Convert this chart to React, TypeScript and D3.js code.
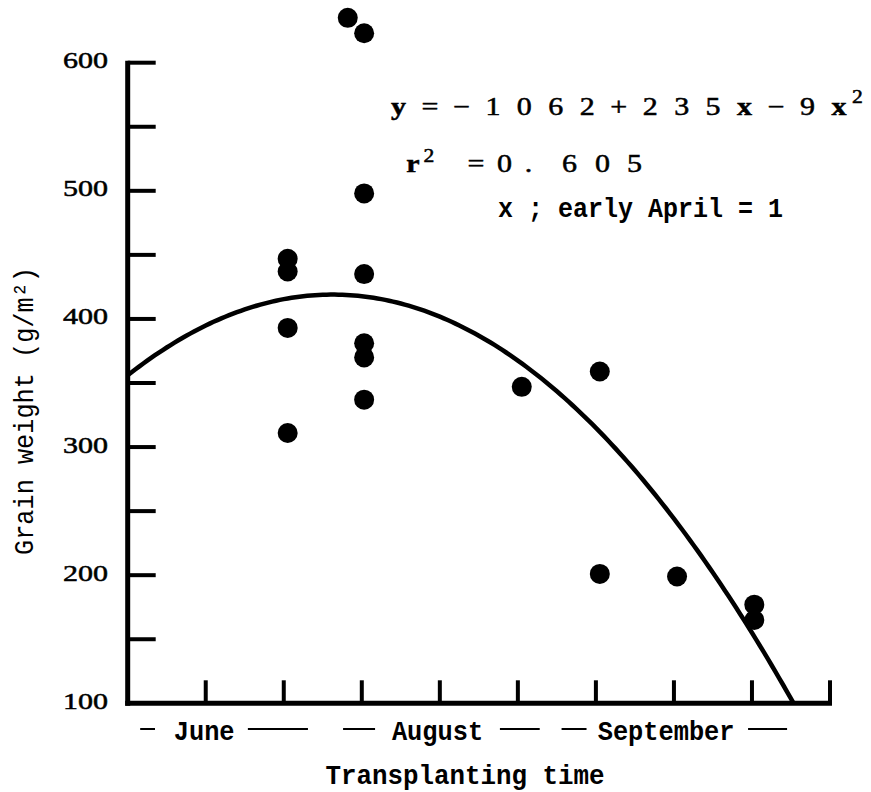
import React from 'react';
import * as d3 from 'd3';

// transplanting period (tick units along the x axis) and grain weight (g/m2)
const periods = [2.05, 2.05, 2.05, 2.05, 2.82, 3.03, 3.03, 3.03, 3.03, 3.03, 3.03, 5.05, 6.05, 6.05, 7.04, 8.03, 8.03];
const grainWeight = [447, 437, 393, 311, 635, 623, 498, 435, 381, 370, 337, 347, 359, 201, 199, 177, 165];

// fitted quadratic as drawn (c0 + c1*t + c2*t^2, t in tick units)
const fitCoef = [356, 48, -9.14];

const yTickLabels = [100, 200, 300, 400, 500, 600];
const yMinorTicks = [150, 250, 350, 450, 550];
const xTicks = [1, 2, 3, 4, 5, 6, 7, 8, 9];

const months = ['June', 'August', 'September'];
const monthCenters = [0.98, 3.97, 6.9];
const monthDashes = [
  [[0.16, 0.35], [1.54, 2.31]],
  [[2.76, 3.17], [4.77, 5.28]],
  [[5.56, 5.88], [7.95, 8.45]],
];

const eqTokens = ['y', '=', '−', '1', '0', '6', '2', '+', '2', '3', '5', 'x', '−', '9', 'x'];
const r2Tokens = ['=', '0', '.', '6', '0', '5'];
const r2Centers = [476, 504.5, 528.5, 569.5, 602.5, 634.5];

const W = 871;
const H = 792;
const mono = '"Liberation Mono", "DejaVu Sans Mono", monospace';
const serif = '"Liberation Serif", "DejaVu Serif", serif';

function Glyph({ x, y, s, bold, size }: { x: number; y: number; s: string; bold?: boolean; size?: number }) {
  return (
    <text
      transform={`translate(${x}, ${y}) scale(1.2, 1)`}
      textAnchor="middle"
      fontWeight={bold ? 'bold' : 'normal'}
      fontSize={size}
    >
      {s}
    </text>
  );
}

export default function App() {
  const x = d3.scaleLinear().domain([0, 9]).range([127.7, 830]);
  const y = d3.scaleLinear().domain([100, 600]).range([703.3, 62.7]);

  const fit = (t: number) => fitCoef[0] + fitCoef[1] * t + fitCoef[2] * t * t;
  const curveTs = d3.range(0, 9.001, 0.05);
  const line = d3
    .line<number>()
    .x((t) => x(t))
    .y((t) => y(fit(t)));

  const axisX = x(0);
  const baseY = y(100);

  return (
    <svg width={W} height={H} style={{ position: 'absolute', left: 0, top: 0, background: '#fff' }}>
      <defs>
        <clipPath id="plot">
          <rect x={axisX} y={0} width={x(9) - axisX} height={baseY} />
        </clipPath>
      </defs>

      {/* axes */}
      <line x1={axisX} x2={axisX} y1={y(600) - 2} y2={baseY + 2.5} stroke="#000" strokeWidth={5} />
      <line x1={axisX - 2.5} x2={x(9) + 2} y1={baseY} y2={baseY} stroke="#000" strokeWidth={5} />
      {yTickLabels.concat(yMinorTicks).filter((v) => v > 100).map((v) => (
        <line key={'yt' + v} x1={axisX} x2={axisX + 28} y1={y(v)} y2={y(v)} stroke="#000" strokeWidth={4} />
      ))}
      {xTicks.map((t) => (
        <line key={'xt' + t} x1={x(t)} x2={x(t)} y1={baseY} y2={baseY - 23} stroke="#000" strokeWidth={4} />
      ))}
      {yTickLabels.map((v) => (
        <text
          key={'yl' + v}
          x={63}
          y={y(v) + 5.5}
          fontFamily={serif}
          fontSize={23}
          stroke="#000"
          strokeWidth={0.5}
          textLength={45}
          lengthAdjust="spacingAndGlyphs"
        >
          {v}
        </text>
      ))}

      {/* fitted curve */}
      <path d={line(curveTs) || ''} fill="none" stroke="#000" strokeWidth={4.5} clipPath="url(#plot)" />

      {/* observations */}
      {periods.map((p, i) => (
        <circle key={i} cx={x(p)} cy={y(grainWeight[i])} r={10} fill="#000" />
      ))}

      {/* equation */}
      <g fontFamily={serif} fontSize={25} stroke="#000" strokeWidth={0.5}>
        {eqTokens.map((s, i) => (
          <Glyph key={i} x={398.5 + i * 31.46} y={115} s={s} bold={s === 'x' || s === 'y'} />
        ))}
        <Glyph x={857.5} y={103} s="2" size={18} />
        <Glyph x={413} y={172} s="r" bold />
        <Glyph x={429} y={162} s="2" size={18} />
        {r2Tokens.map((s, i) => (
          <Glyph key={'r' + i} x={r2Centers[i]} y={172} s={s} />
        ))}
      </g>
      <text x={498} y={217} fontFamily={mono} fontSize={27} fontWeight="bold" textLength={285} lengthAdjust="spacingAndGlyphs">
        x ; early April = 1
      </text>

      {/* month labels */}
      {months.map((m, i) => (
        <g key={m}>
          <text
            x={x(monthCenters[i])}
            y={740}
            textAnchor="middle"
            fontFamily={mono}
            fontSize={27}
            fontWeight="bold"
            textLength={m.length * 15.2}
            lengthAdjust="spacingAndGlyphs"
          >
            {m}
          </text>
          {monthDashes[i].map(([a, b], j) => (
            <line key={j} x1={x(a)} x2={x(b)} y1={729} y2={729} stroke="#000" strokeWidth={2} />
          ))}
        </g>
      ))}

      {/* axis titles */}
      <text
        x={465}
        y={784}
        textAnchor="middle"
        fontFamily={mono}
        fontSize={27}
        fontWeight="bold"
        textLength={279}
        lengthAdjust="spacingAndGlyphs"
      >
        Transplanting time
      </text>
      <text
        transform="translate(33, 411) rotate(-90)"
        textAnchor="middle"
        fontFamily={mono}
        fontSize={27}
        textLength={288}
        lengthAdjust="spacingAndGlyphs"
      >
        Grain weight (g/m²)
      </text>
    </svg>
  );
}
